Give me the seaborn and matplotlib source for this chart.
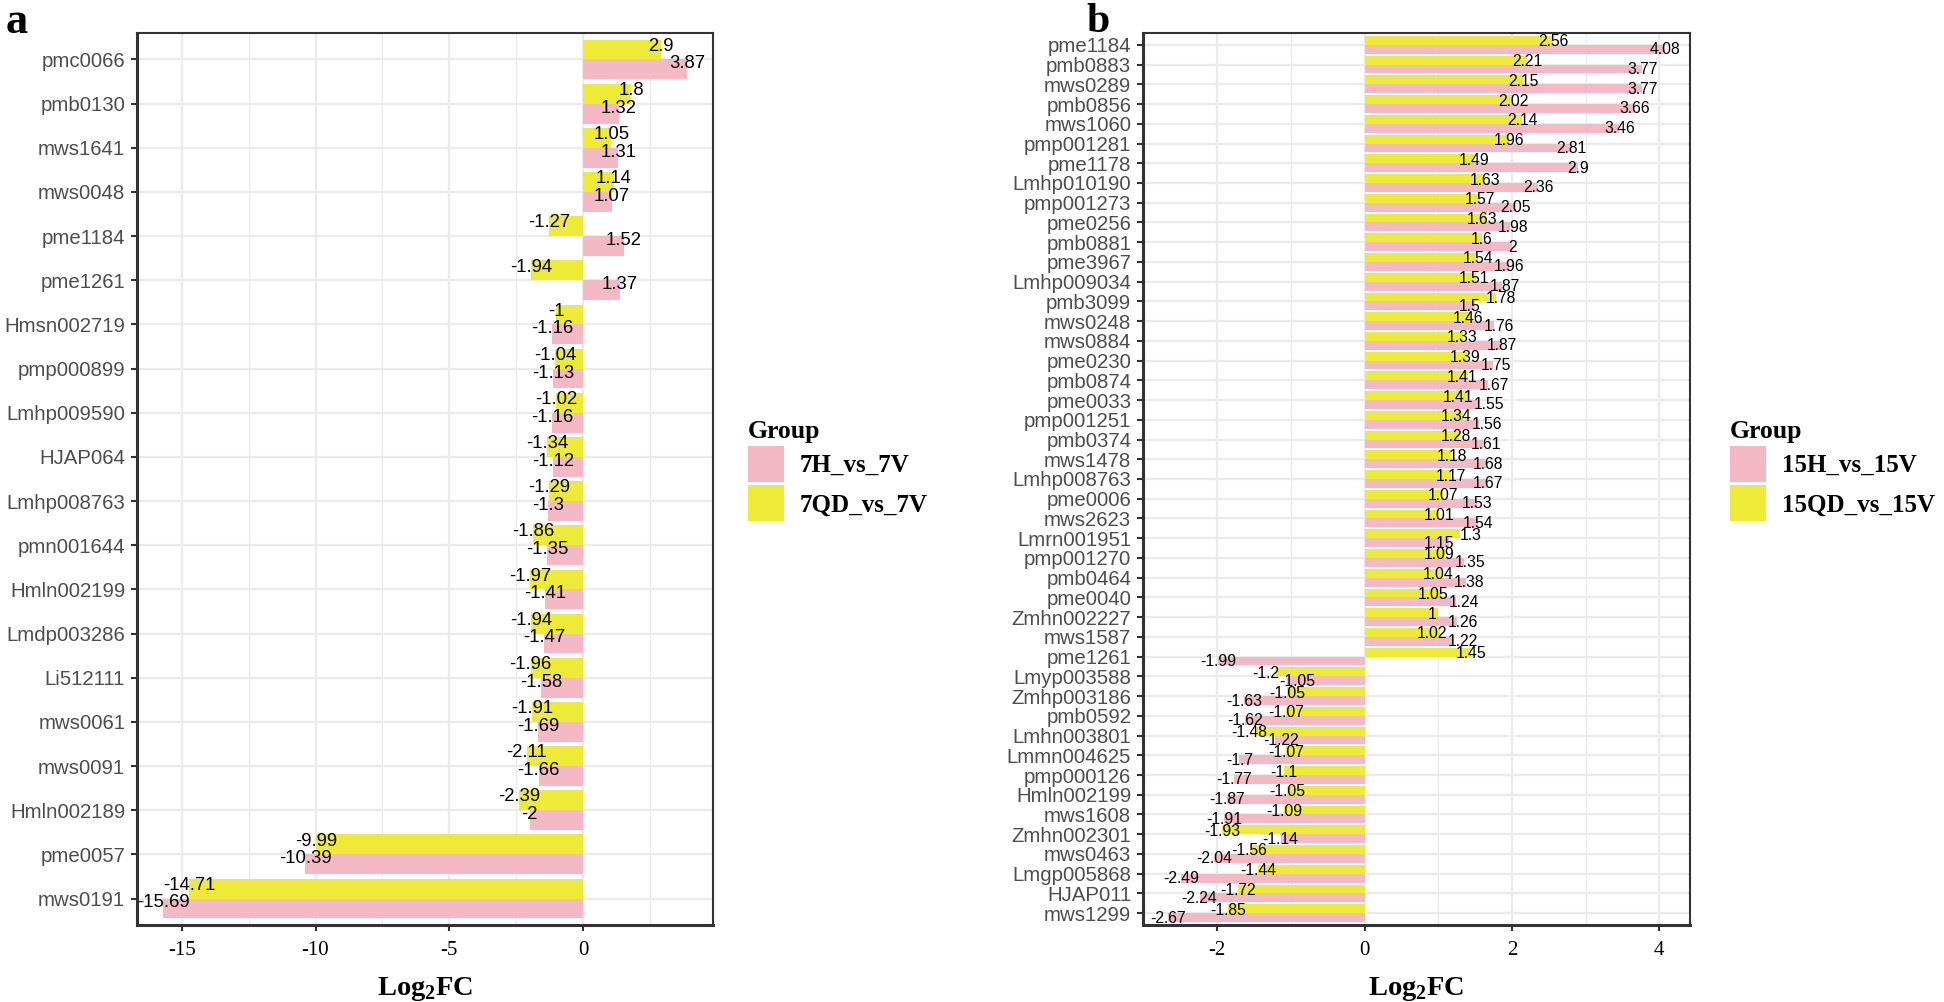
import seaborn as sns
import pandas as pd
import matplotlib.pyplot as plt
from matplotlib.patches import Patch
from matplotlib.ticker import MultipleLocator
from matplotlib.font_manager import FontProperties


# panel a: 7-day comparisons
genes_a = ['pmc0066', 'pmb0130', 'mws1641', 'mws0048', 'pme1184', 'pme1261',
           'Hmsn002719', 'pmp000899', 'Lmhp009590', 'HJAP064', 'Lmhp008763',
           'pmn001644', 'Hmln002199', 'Lmdp003286', 'Li512111', 'mws0061',
           'mws0091', 'Hmln002189', 'pme0057', 'mws0191']
h7 = [3.87, 1.32, 1.31, 1.07, 1.52, 1.37, -1.16, -1.13, -1.16, -1.12, -1.3,
      -1.35, -1.41, -1.47, -1.58, -1.69, -1.66, -2, -10.39, -15.69]
qd7 = [2.9, 1.8, 1.05, 1.14, -1.27, -1.94, -1, -1.04, -1.02, -1.34, -1.29,
       -1.86, -1.97, -1.94, -1.96, -1.91, -2.11, -2.39, -9.99, -14.71]

# panel b: 15-day comparisons
genes_b = ['pme1184', 'pmb0883', 'mws0289', 'pmb0856', 'mws1060', 'pmp001281',
           'pme1178', 'Lmhp010190', 'pmp001273', 'pme0256', 'pmb0881', 'pme3967',
           'Lmhp009034', 'pmb3099', 'mws0248', 'mws0884', 'pme0230', 'pmb0874',
           'pme0033', 'pmp001251', 'pmb0374', 'mws1478', 'Lmhp008763', 'pme0006',
           'mws2623', 'Lmrn001951', 'pmp001270', 'pmb0464', 'pme0040',
           'Zmhn002227', 'mws1587', 'pme1261', 'Lmyp003588', 'Zmhp003186',
           'pmb0592', 'Lmhn003801', 'Lmmn004625', 'pmp000126', 'Hmln002199',
           'mws1608', 'Zmhn002301', 'mws0463', 'Lmgp005868', 'HJAP011', 'mws1299']
h15 = [4.08, 3.77, 3.77, 3.66, 3.46, 2.81, 2.9, 2.36, 2.05, 1.98, 2, 1.96,
       1.87, 1.5, 1.76, 1.87, 1.75, 1.67, 1.55, 1.56, 1.61, 1.68, 1.67, 1.53,
       1.54, 1.15, 1.35, 1.38, 1.24, 1.26, 1.22, -1.99, -1.05, -1.63, -1.62,
       -1.22, -1.7, -1.77, -1.87, -1.91, -1.14, -2.04, -2.49, -2.24, -2.67]
qd15 = [2.56, 2.21, 2.15, 2.02, 2.14, 1.96, 1.49, 1.63, 1.57, 1.63, 1.6, 1.54,
        1.51, 1.78, 1.46, 1.33, 1.39, 1.41, 1.41, 1.34, 1.28, 1.18, 1.17, 1.07,
        1.01, 1.3, 1.09, 1.04, 1.05, 1, 1.02, 1.45, -1.2, -1.05, -1.07, -1.48,
        -1.07, -1.1, -1.05, -1.09, -1.93, -1.56, -1.44, -1.72, -1.85]

PINK = '#F5B9C5'
YELLOW = '#EEEA38'
GRID = '#EBEBEB'

plt.rcParams['font.family'] = 'Liberation Sans'
plt.rcParams['axes.unicode_minus'] = False
plt.rcParams['mathtext.fontset'] = 'custom'
plt.rcParams['mathtext.rm'] = 'Liberation Serif'
plt.rcParams['mathtext.bf'] = 'Liberation Serif:bold'

W, H = 1944, 1002
fig = plt.figure(figsize=(W / 100, H / 100), dpi=100)

leg_font = FontProperties(family='Liberation Serif', weight='bold', size=18)
title_font = FontProperties(family='Liberation Serif', weight='bold', size=18.5)


def spread(a, b, gap):
    # push two same-sign labels apart (the bigger one outward), like a repel
    if a * b <= 0 or abs(a - b) >= gap:
        return a, b
    mid = (a + b) / 2
    sign = 1 if a > 0 else -1
    if abs(a) > abs(b):
        return mid + sign * gap / 2, mid - sign * gap / 2
    return mid - sign * gap / 2, mid + sign * gap / 2


def panel(rect, genes, h, qd, names, xlim, major, minor, lab_size, offs, gap, leg_xy):
    ax = fig.add_axes(rect)
    df = pd.DataFrame({
        'gene': genes * 2,
        'value': h + qd,
        'group': [names[0]] * len(genes) + [names[1]] * len(genes),
    })
    sns.barplot(data=df, x='value', y='gene', hue='group', order=genes,
                hue_order=[names[1], names[0]],
                palette={names[0]: PINK, names[1]: YELLOW},
                orient='h', width=0.9, gap=0, saturation=1, errorbar=None,
                legend=False, linewidth=0, ax=ax)

    # value labels
    for i in range(len(genes)):
        xh, xq = spread(h[i], qd[i], gap)
        ax.text(xq, i + offs[0], f'{qd[i]:g}', ha='center', va='center',
                fontsize=lab_size, color='black')
        ax.text(xh, i + offs[1], f'{h[i]:g}', ha='center', va='center',
                fontsize=lab_size, color='black')

    n = len(genes)
    ax.set_ylim(n - 0.4, -0.6)
    ax.set_xlim(*xlim)
    ax.xaxis.set_major_locator(MultipleLocator(major))
    ax.xaxis.set_minor_locator(MultipleLocator(minor))
    ax.set_axisbelow(True)
    ax.grid(True, which='major', color=GRID, lw=1.6)
    ax.grid(True, which='minor', axis='x', color=GRID, lw=0.9)

    for s in ax.spines.values():
        s.set_color('#333333')
        s.set_linewidth(1.5)
    ax.spines['left'].set_linewidth(2.2)
    ax.spines['bottom'].set_linewidth(2.2)

    ax.tick_params(axis='y', length=4.5, width=1.5, color='#333333', pad=4,
                   labelsize=14.7, labelcolor='#4D4D4D')
    ax.tick_params(axis='x', length=4.5, width=1.5, color='#333333', pad=7,
                   labelsize=15, labelcolor='black')
    ax.tick_params(which='minor', length=0)
    for t in ax.get_xticklabels():
        t.set_fontfamily('Liberation Serif')

    ax.set_ylabel('')
    ax.set_xlabel(r'Log$_\mathbf{2}$FC', fontsize=20.5, fontweight='bold',
                  family='Liberation Serif', labelpad=11)

    handles = [Patch(facecolor=PINK, label=names[0]),
               Patch(facecolor=YELLOW, label=names[1])]
    leg = ax.legend(handles=handles, title='Group', loc='upper left',
                    bbox_to_anchor=leg_xy, bbox_transform=fig.transFigure,
                    frameon=False, prop=leg_font, title_fontproperties=title_font,
                    handlelength=1.44, handleheight=1.85, handletextpad=0.64,
                    labelspacing=0.12, borderpad=0, borderaxespad=0)
    leg._legend_box.align = 'left'
    return ax


top, bottom = 33, 925
panel([137 / W, 1 - bottom / H, (713 - 137) / W, (bottom - top) / H],
      genes_a, h7, qd7, ['7H_vs_7V', '7QD_vs_7V'], (-16.668, 4.848), 5, 2.5,
      13.3, (-0.3, 0.1), 0.0, (748 / W, 1 - 420 / H))
panel([1143 / W, 1 - bottom / H, (1690 - 1143) / W, (bottom - top) / H],
      genes_b, h15, qd15, ['15H_vs_15V', '15QD_vs_15V'], (-3.0075, 4.4175), 2, 1,
      11.3, (-0.15, 0.25), 0.42, (1730 / W, 1 - 420 / H))

fig.text(6 / W, 1 - 33 / H, 'a', fontsize=32, fontweight='bold',
         family='Liberation Serif', va='baseline')
fig.text(1086 / W, 1 - 32 / H, 'b', fontsize=30, fontweight='bold',
         family='Liberation Serif', va='baseline')

fig.savefig('out.png', dpi=100)
